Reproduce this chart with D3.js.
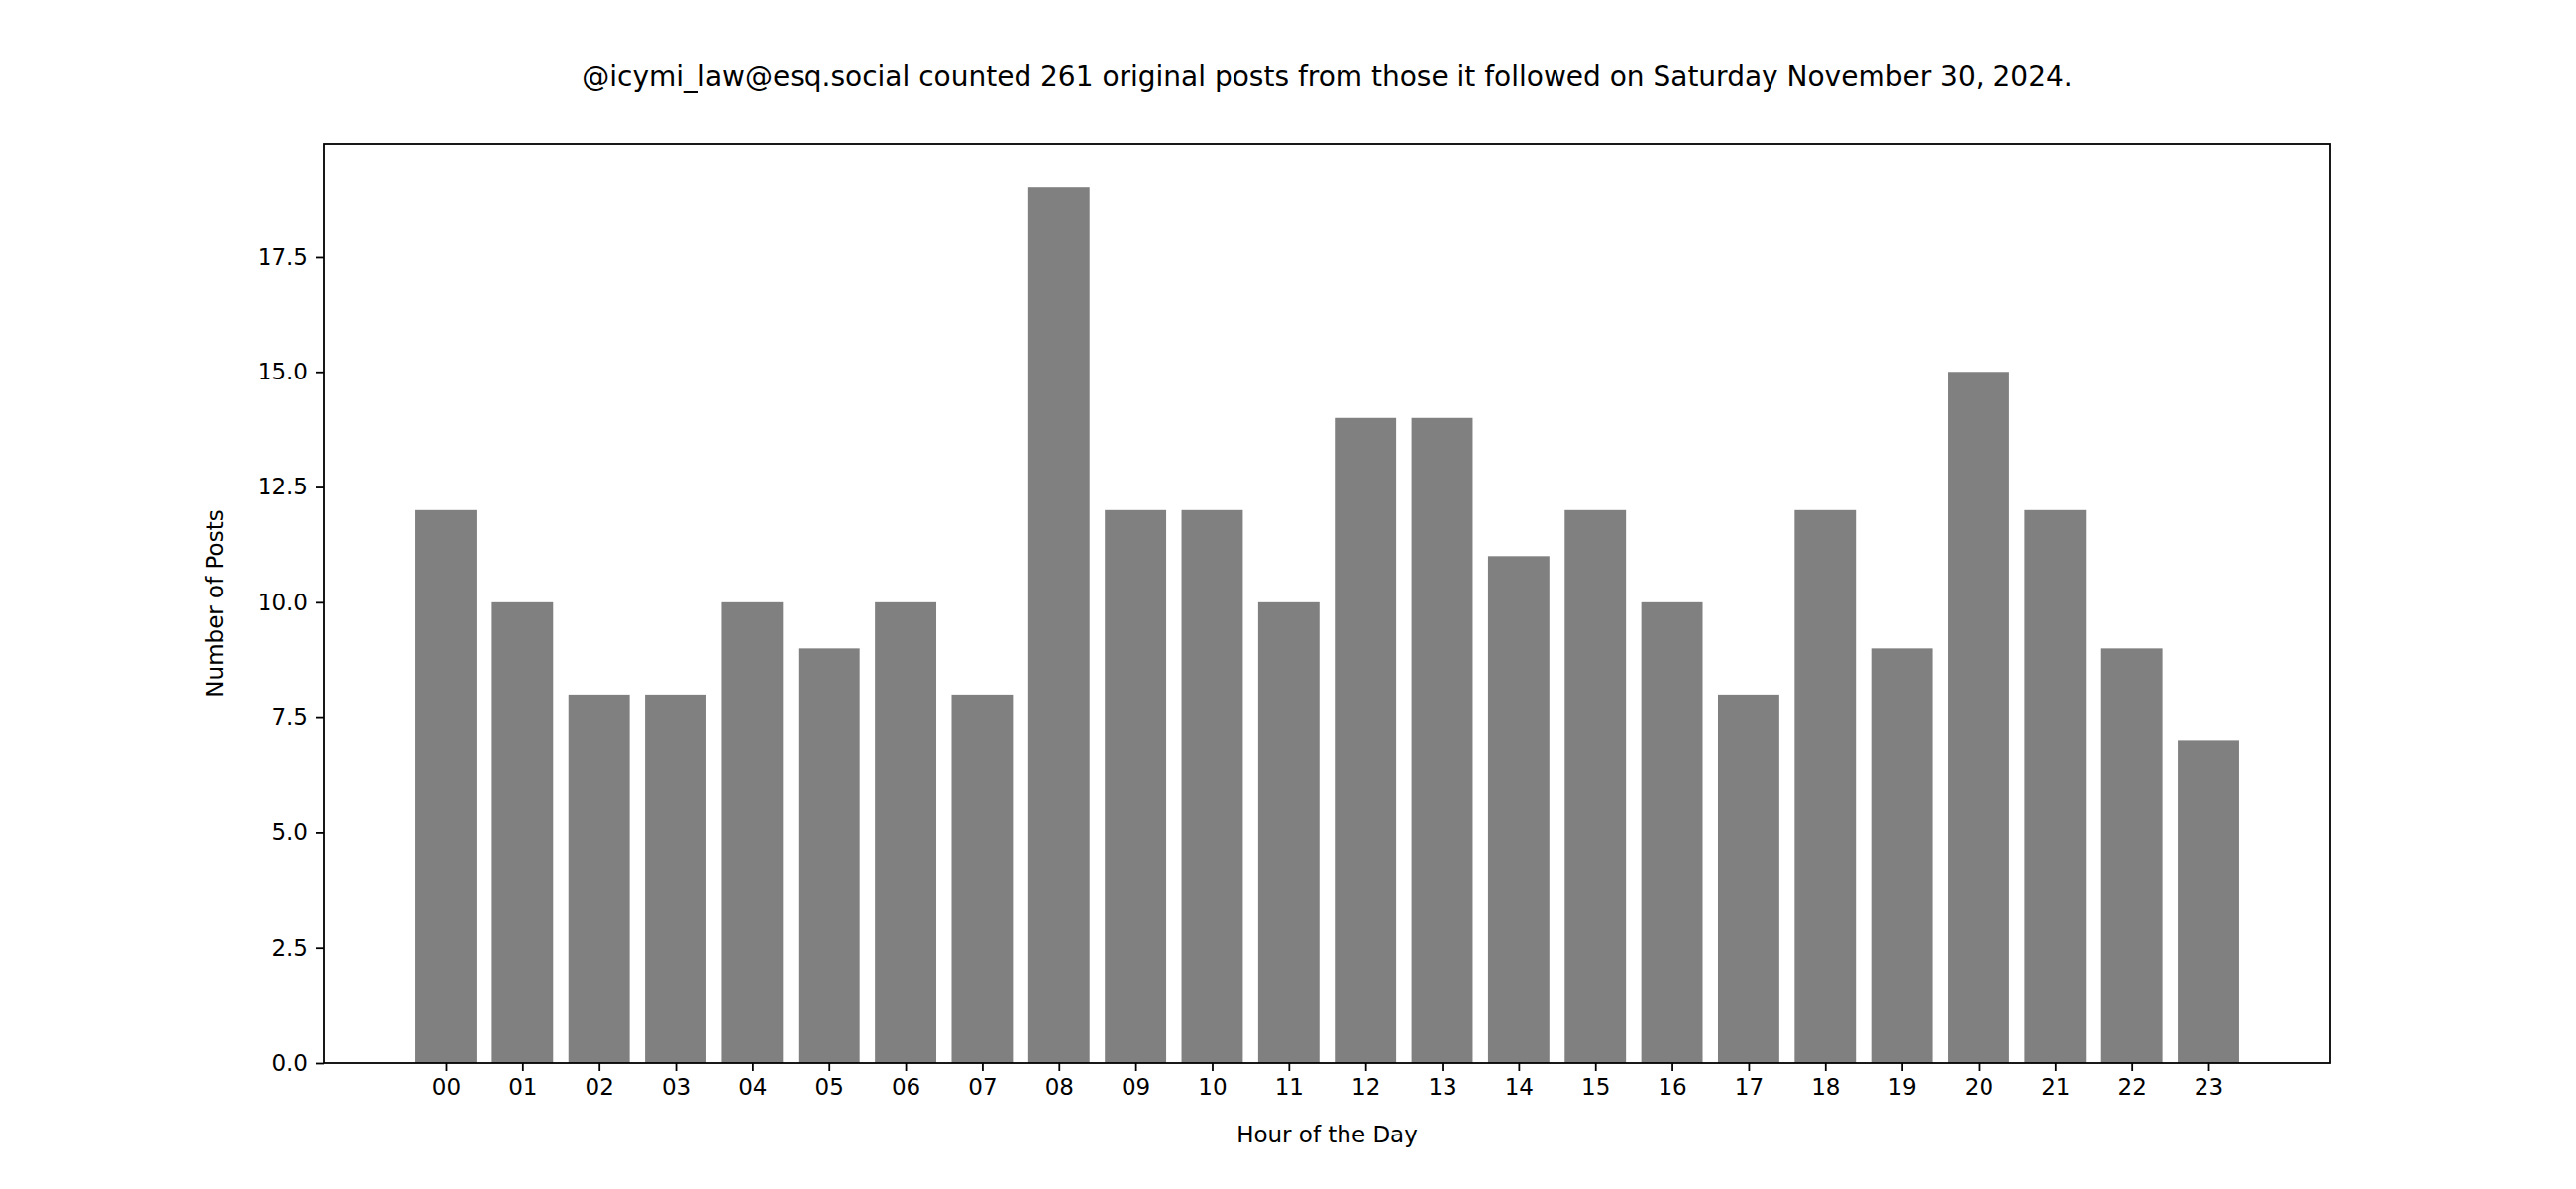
<!DOCTYPE html>
<html><head><meta charset="utf-8">
<script src="https://cdn.jsdelivr.net/npm/d3@7"></script>
<style>body{margin:0;background:#fff}</style>
</head><body>
<script>
const hours = ["00","01","02","03","04","05","06","07","08","09","10","11","12","13","14","15","16","17","18","19","20","21","22","23"];
const posts = [12,10,8,8,10,9,10,8,19,12,12,10,14,14,11,12,10,8,12,9,15,12,9,7];
const yTicks = [0,2.5,5,7.5,10,12.5,15,17.5];
const titleText = "@icymi_law@esq.social counted 261 original posts from those it followed on Saturday November 30, 2024.";

const W=2600,H=1200, L=327, R=2352, T=145, B=1073;
const svg=d3.select("body").append("svg").attr("width",W).attr("height",H)
  .style("font-family","DejaVu Sans");
const x=d3.scaleLinear().domain([-1.59,24.59]).range([L,R]);
const y=d3.scaleLinear().domain([0,19.95]).range([B,T]);

svg.selectAll("rect.bar").data(posts).join("rect").attr("class","bar")
  .attr("x",(d,i)=>x(i-0.4)).attr("width",(d,i)=>x(i+0.4)-x(i-0.4))
  .attr("y",d=>y(d)).attr("height",d=>y(0)-y(d)).attr("fill","#808080");

const xa=svg.append("g").attr("transform",`translate(0,${B})`)
  .call(d3.axisBottom(x).tickValues(d3.range(24)).tickFormat(i=>hours[i]).tickSizeOuter(0).tickSize(8).tickPadding(8));
const ya=svg.append("g").attr("transform",`translate(${L},0)`)
  .call(d3.axisLeft(y).tickValues(yTicks).tickFormat(d3.format(".1f")).tickSizeOuter(0).tickSize(8).tickPadding(8));
[xa,ya].forEach(a=>{a.select(".domain").remove();
  a.selectAll("line").attr("stroke","#000").attr("stroke-width",1.8);
  a.selectAll("text").attr("font-size",23).attr("font-family","DejaVu Sans").attr("fill","#000");});
svg.append("rect").attr("x",L).attr("y",T).attr("width",R-L).attr("height",B-T)
  .attr("fill","none").attr("stroke","#000").attr("stroke-width",1.8);

svg.append("text").attr("x",(L+R)/2).attr("y",87).attr("text-anchor","middle")
  .attr("font-size",28).text(titleText);
svg.append("text").attr("x",(L+R)/2).attr("y",1153).attr("text-anchor","middle")
  .attr("font-size",23).text("Hour of the Day");
svg.append("text").attr("transform",`translate(225,${(T+B)/2}) rotate(-90)`).attr("text-anchor","middle")
  .attr("font-size",23).text("Number of Posts");
</script>
</body></html>
